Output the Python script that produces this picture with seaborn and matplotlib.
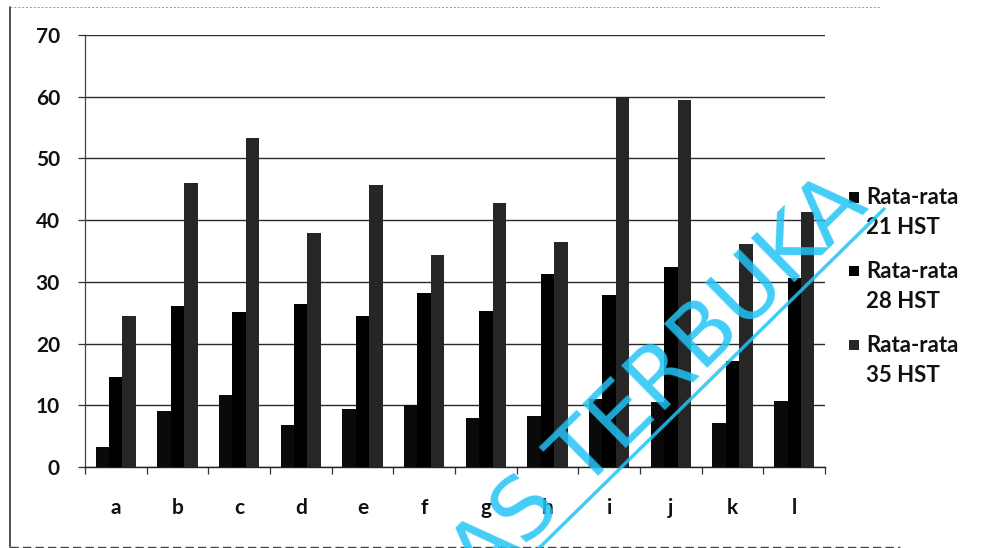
import matplotlib
matplotlib.use("Agg")
import matplotlib.pyplot as plt
from matplotlib.lines import Line2D
from matplotlib.patches import Rectangle
from matplotlib.legend_handler import HandlerPatch
import seaborn as sns
import pandas as pd
import numpy as np

# Perlakuan (treatment) labels
categories = ["a", "b", "c", "d", "e", "f", "g", "h", "i", "j", "k", "l"]
series_names = ["Rata-rata\n21 HST", "Rata-rata\n28 HST", "Rata-rata\n35 HST"]
hst21 = [3.3, 9.1, 11.6, 6.8, 9.4, 10.0, 8.0, 8.2, 11.1, 10.6, 7.2, 10.7]
hst28 = [14.6, 26.1, 25.2, 26.4, 24.5, 28.2, 25.3, 31.2, 27.9, 32.4, 17.2, 30.7]
hst35 = [24.5, 46.1, 53.4, 38.0, 45.7, 34.4, 42.8, 36.4, 59.9, 59.5, 36.1, 41.3]
y_ticks = [0, 10, 20, 30, 40, 50, 60, 70]

df = pd.DataFrame({
    "kode": categories * 3,
    "seri": [series_names[0]] * 12 + [series_names[1]] * 12 + [series_names[2]] * 12,
    "nilai": hst21 + hst28 + hst35,
})

sns.set_theme(style="white")
plt.rcParams["font.family"] = ["Lato", "DejaVu Sans"]

fig = plt.figure(figsize=(9.81, 5.48), dpi=100)
ax = fig.add_axes([0.0866, 0.1478, 0.7544, 0.7882])

palette = ["#0a0a0a", "#000000", "#262626"]
sns.barplot(data=df, x="kode", y="nilai", hue="seri", palette=palette,
            width=0.65, saturation=1, ax=ax, linewidth=0, zorder=3,
            errorbar=None)

ax.set_ylim(0, 70)
ax.set_xlim(-0.5, len(categories) - 0.5)
ax.set_yticks(y_ticks)
ax.set_yticklabels([str(v) for v in y_ticks], fontsize=15, fontweight="bold",
                   color="#111111")
ax.set_xticklabels(categories, fontsize=15, fontweight="bold", color="#111111")
ax.set_xlabel("")
ax.set_ylabel("")

# horizontal gridlines
ax.yaxis.grid(True, color="#2a2a2a", linewidth=1.0, zorder=1)
ax.xaxis.grid(False)

# spines
for s in ["top", "right"]:
    ax.spines[s].set_visible(False)
ax.spines["left"].set_color("#444444")
ax.spines["left"].set_linewidth(0.9)
ax.spines["left"].set_linestyle((0, (3, 1)))
ax.spines["bottom"].set_color("#222222")
ax.spines["bottom"].set_linewidth(1.0)

# ticks: y outward, x boundary ticks as minor
ax.tick_params(axis="y", which="major", length=5, width=0.9, color="#333333",
               pad=13, left=True, direction="out")
ax.tick_params(axis="x", which="major", length=0, pad=22)
ax.set_xticks(np.arange(-0.5, len(categories), 1.0), minor=True)
ax.tick_params(axis="x", which="minor", length=5, width=0.9, color="#333333",
               bottom=True, direction="out")


# legend: small square beside the first line of each two-line label
def top_square(legend, orig_handle, xdescent, ydescent, width, height, fontsize):
    size = 0.48 * fontsize
    y0 = -ydescent + height / 2 - size / 2 + 0.72 * fontsize
    return Rectangle((-xdescent, y0), size, size)


leg_fs = 16
handles, labels = ax.get_legend_handles_labels()
leg = ax.legend(handles, labels, loc="upper left", bbox_to_anchor=(1.02, 0.668),
                frameon=False, fontsize=leg_fs, handlelength=0.48,
                handleheight=0.6, handletextpad=0.32, labelspacing=1.05,
                borderaxespad=0,
                handler_map={Rectangle: HandlerPatch(patch_func=top_square)})
for t in leg.get_texts():
    t.set_fontweight("bold")
    t.set_color("#111111")
    t.set_linespacing(1.5)

# outer frame
fig.add_artist(Line2D([10 / 981, 10 / 981], [1 / 548, 541 / 548],
                      transform=fig.transFigure, color="#333333", lw=1.2))
fig.add_artist(Line2D([10 / 981, 880 / 981], [541 / 548, 541 / 548],
                      transform=fig.transFigure, color="#999999", lw=0.7,
                      linestyle=(0, (2, 2))))
fig.add_artist(Line2D([10 / 981, 900 / 981], [1.5 / 548, 1.5 / 548],
                      transform=fig.transFigure, color="#444444", lw=1.0,
                      linestyle=(0, (6, 3))))

# watermark
wm_color = "#22c4f5"
fig.text(870 / 981, (548 - 208) / 548, "AS TERBUKA", rotation=44.5,
         rotation_mode="anchor", ha="right", va="baseline", fontsize=62,
         color=wm_color, alpha=0.85, family=["DejaVu Sans"], zorder=10)
fig.add_artist(Line2D([530 / 981, 884 / 981], [-9 / 548, (548 - 209) / 548],
                      transform=fig.transFigure, color=wm_color, lw=2.5,
                      alpha=0.85, zorder=10))

fig.savefig("out.png", dpi=100)
